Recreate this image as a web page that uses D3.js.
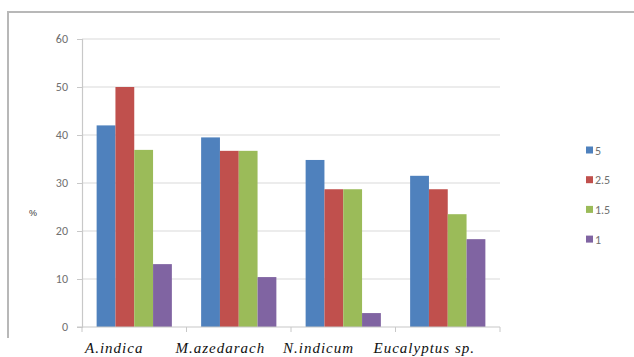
<!DOCTYPE html>
<html>
<head>
<meta charset="utf-8">
<script src="https://cdn.jsdelivr.net/npm/d3@7"></script>
<style>
  html, body { margin: 0; padding: 0; background: #fff; }
  svg { display: block; }
</style>
</head>
<body>
<svg id="chart" width="634" height="357"></svg>
<script>
// Species along the x axis
const categories = ["A.indica", "M.azedarach", "N.indicum", "Eucalyptus sp."];
// Series (concentration levels) shown in the legend
const seriesNames = ["5", "2.5", "1.5", "1"];
const seriesColors = ["#4f81bd", "#c0504d", "#9bbb59", "#8064a2"];
// Percent values per species, one array per series
const values5  = [42, 39.5, 34.8, 31.5];
const values25 = [50, 36.7, 28.7, 28.7];
const values15 = [36.9, 36.7, 28.7, 23.5];
const values1  = [13.1, 10.4, 2.9, 18.3];
const yTicks = [0, 10, 20, 30, 40, 50, 60];

const seriesValues = [values5, values25, values15, values1];

const svg = d3.select("#chart");

// Outer chart frame (top and left edges)
svg.append("path")
  .attr("d", "M8,338 L8,12 L634,12")
  .attr("fill", "none")
  .attr("stroke", "#b8b8b8")
  .attr("stroke-width", 2);

const plot = { left: 82, right: 500, top: 39, bottom: 327 };

const x = d3.scaleBand()
  .domain(categories)
  .range([plot.left, plot.right])
  .paddingInner(0.28)
  .paddingOuter(0.14);

const xs = d3.scaleBand()
  .domain(seriesNames)
  .range([0, x.bandwidth()]);

const y = d3.scaleLinear()
  .domain([0, 60])
  .range([plot.bottom, plot.top]);

// Horizontal gridlines
svg.append("g")
  .selectAll("line")
  .data(yTicks.filter(t => t > 0))
  .join("line")
  .attr("x1", plot.left)
  .attr("x2", plot.right)
  .attr("y1", d => y(d))
  .attr("y2", d => y(d))
  .attr("stroke", "#d9d9d9")
  .attr("stroke-width", 1.2);

// Y axis
const yAxis = svg.append("g")
  .attr("transform", `translate(${plot.left},0)`)
  .call(d3.axisLeft(y).tickValues(yTicks).tickSize(5).tickPadding(9));
yAxis.select(".domain").attr("stroke", "#c8c8c8").attr("stroke-width", 1.2);
yAxis.selectAll(".tick line").attr("stroke", "#c8c8c8");
yAxis.selectAll(".tick text")
  .attr("fill", "#707070")
  .style("font-family", "Carlito, 'Liberation Sans', Arial, sans-serif")
  .style("font-size", "12px");

// Bars
const groups = svg.append("g")
  .selectAll("g")
  .data(categories)
  .join("g")
  .attr("transform", d => `translate(${x(d)},0)`);

groups.selectAll("rect")
  .data((c, i) => seriesNames.map((s, k) => ({ s, k, v: seriesValues[k][i] })))
  .join("rect")
  .attr("x", d => xs(d.s))
  .attr("width", xs.bandwidth())
  .attr("y", d => y(d.v))
  .attr("height", d => y(0) - y(d.v))
  .attr("fill", d => seriesColors[d.k]);

// X axis line with ticks at category boundaries
const step = (plot.right - plot.left) / categories.length;
const boundaries = d3.range(categories.length + 1).map(i => plot.left + i * step);
svg.append("line")
  .attr("x1", plot.left - 5).attr("x2", plot.right)
  .attr("y1", plot.bottom).attr("y2", plot.bottom)
  .attr("stroke", "#c8c8c8").attr("stroke-width", 1.2);
svg.append("g")
  .selectAll("line")
  .data(boundaries)
  .join("line")
  .attr("x1", d => d).attr("x2", d => d)
  .attr("y1", plot.bottom).attr("y2", plot.bottom + 5)
  .attr("stroke", "#c8c8c8");

// Category labels, set relative to each category's left boundary
const labelInset = [3, -11, -8, -22];
svg.append("g")
  .selectAll("text")
  .data(categories)
  .join("text")
  .attr("x", (d, i) => x(d) - x.step() * x.paddingInner() / 2 + labelInset[i])
  .attr("y", 353)
  .attr("text-anchor", "start")
  .style("font-family", "'Liberation Serif', 'Times New Roman', serif")
  .style("font-style", "italic")
  .style("font-size", "15px")
  .style("letter-spacing", "1px")
  .attr("fill", "#111")
  .text(d => d);

// Y axis title
svg.append("text")
  .attr("x", 33)
  .attr("y", 216)
  .attr("text-anchor", "middle")
  .style("font-family", "'Liberation Sans', Arial, sans-serif")
  .style("font-size", "9px")
  .attr("fill", "#333")
  .text("%");

// Legend
const legend = svg.append("g")
  .selectAll("g")
  .data(seriesNames)
  .join("g")
  .attr("transform", (d, i) => `translate(586,${150 + i * 29.7})`);
legend.append("rect")
  .attr("x", 0).attr("y", -3.5)
  .attr("width", 7).attr("height", 7)
  .attr("fill", (d, i) => seriesColors[i]);
legend.append("text")
  .attr("x", 9).attr("y", 4.5)
  .style("font-family", "Carlito, 'Liberation Sans', Arial, sans-serif")
  .style("font-size", "12px")
  .attr("fill", "#707070")
  .text(d => d);
</script>
</body>
</html>
